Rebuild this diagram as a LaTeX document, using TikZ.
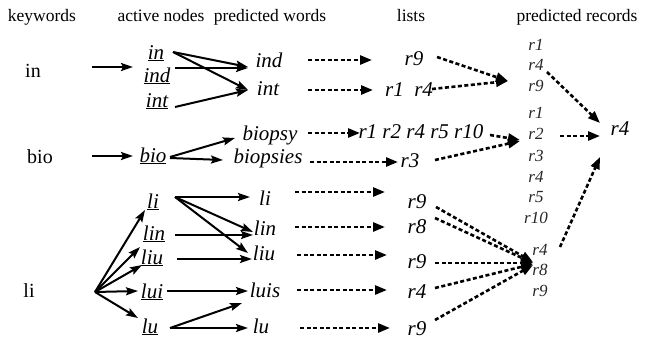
\documentclass[tikz,border=0pt]{standalone}
\usepackage{fontspec}
\setmainfont{Liberation Serif}
\newfontfamily\timesfont{Liberation Serif}
\usetikzlibrary{arrows.meta}

\begin{document}
\begin{tikzpicture}[x=1pt, y=-1pt,
        hdr/.style={anchor=base, inner sep=0pt, font=\timesfont\fontsize{17.5}{20}\selectfont},
        kw/.style={inner sep=0pt, text height=15pt, text depth=5pt, font=\timesfont\fontsize{20}{24}\selectfont},
        word/.style={inner sep=0pt, text height=15pt, text depth=5pt, font=\timesfont\fontsize{21}{24}\selectfont\itshape},
        rec/.style={inner sep=0pt, text height=12pt, text depth=4pt, text=black!85, font=\timesfont\fontsize{17}{20}\selectfont\itshape},
        solidarr/.style={-{Stealth[length=12pt,width=8pt,inset=2pt]}, line width=2pt},
        dotarr/.style={-{Triangle[length=12pt,width=9pt]}, line width=2.6pt, dash pattern=on 4pt off 2.5pt}]

        \useasboundingbox (0,0) rectangle (645,343);

        % column headers
        \node[hdr] (h1) at (42,21) {keywords};
        \node[hdr] (h2) at (161,21) {active nodes};
        \node[hdr] (h3) at (270,21) {predicted words};
        \node[hdr] (h4) at (411,21) {lists};
        \node[hdr] (h5) at (577,21) {predicted records};

        % keywords
        \node[kw] (kIn) at (33,72) {in};
        \node[kw] (kBio) at (40,158) {bio};
        \node[kw] (kLi) at (29,292) {li};
        \coordinate (hub) at (95,292);

        % active nodes
        \node[word] (aIn) at (156,54) {\underline{in}};
        \node[word] (aInd) at (157,77) {\underline{ind}};
        \node[word] (aInt) at (157,102) {\underline{int}};
        \node[word] (aBio) at (153,157) {\underline{bio}};
        \node[word] (aLi) at (153,203) {\underline{li}};
        \node[word] (aLin) at (154,235) {\underline{lin}};
        \node[word] (aLiu) at (152,259) {\underline{liu}};
        \node[word] (aLui) at (152,293) {\underline{lui}};
        \node[word] (aLu) at (150,328) {\underline{lu}};

        % predicted words
        \node[word] (pInd) at (269,62) {ind};
        \node[word] (pInt) at (268,90) {int};
        \node[word] (pBiopsy) at (270,135) {biopsy};
        \node[word] (pBiopsies) at (268,158) {biopsies};
        \node[word] (pLi) at (265,200) {li};
        \node[word] (pLin) at (265,230) {lin};
        \node[word] (pLiu) at (264,255) {liu};
        \node[word] (pLuis) at (265,292) {luis};
        \node[word] (pLu) at (261,328) {lu};

        % lists
        \node[word] (lR9a) at (414,60) {r9};
        \node[word] (lR1R4) at (409,91) {r1\ \ r4};
        \node[word] (lBio1) at (421,133) {r1 r2 r4 r5 r10};
        \node[word] (lR3) at (410,162) {r3};
        \node[word] (lR9b) at (417,203) {r9};
        \node[word] (lR8) at (417,228) {r8};
        \node[word] (lR9c) at (417,263) {r9};
        \node[word] (lR4) at (417,293) {r4};
        \node[word] (lR9d) at (417,330) {r9};

        % predicted records
        \foreach \n/\y in {1/46, 4/66, 9/87}
            \node[rec] (rA\n) at (536,\y) {r\n};
        \foreach \n/\y in {1/114, 2/135, 3/157, 4/178, 5/198, 10/219}
            \node[rec] (rB\n) at (536,\y) {r\n};
        \foreach \n/\y in {4/251, 8/271, 9/292}
            \node[rec] (rC\n) at (540,\y) {r\n};
        \node[word] (fR4) at (620,130) {r4};

        % keywords -> active nodes
        \draw[solidarr] ([shift={(59,-5)}]kIn.center) -- ([shift={(-24,-10)}]aInd.center);
        \draw[solidarr] ([shift={(52,-2)}]kBio.center) -- ([shift={(-20,-1)}]aBio.center);
        \draw[solidarr] (hub) -- ([shift={(-8,7)}]aLi.center);
        \draw[solidarr] (hub) -- ([shift={(-14,12)}]aLin.center);
        \draw[solidarr] (hub) -- ([shift={(-10,6)}]aLiu.center);
        \draw[solidarr] (hub) -- ([shift={(-14,-2)}]aLui.center);
        \draw[solidarr] (hub) -- ([shift={(-12,-10)}]aLu.center);

        % active nodes -> predicted words
        \draw[solidarr] ([shift={(17,-2)}]aIn.center) -- ([shift={(-21,5)}]pInd.center);
        \draw[solidarr] ([shift={(17,-2)}]aIn.center) -- ([shift={(-20,0)}]pInt.center);
        \draw[solidarr] ([shift={(18,-9)}]aInd.center) -- ([shift={(-21,6)}]pInd.center);
        \draw[solidarr] ([shift={(18,5)}]aInt.center) -- ([shift={(-20,0)}]pInt.center);
        \draw[solidarr] ([shift={(17,0)}]aBio.center) -- ([shift={(-35,3)}]pBiopsy.center);
        \draw[solidarr] ([shift={(17,1)}]aBio.center) -- ([shift={(-45,2)}]pBiopsies.center);
        \draw[solidarr] ([shift={(22,-6)}]aLi.center) -- ([shift={(-15,-3)}]pLi.center);
        \draw[solidarr] ([shift={(22,-6)}]aLi.center) -- ([shift={(-12,2)}]pLin.center);
        \draw[solidarr] ([shift={(22,-6)}]aLi.center) -- ([shift={(-16,-2)}]pLiu.center);
        \draw[solidarr] ([shift={(21,0)}]aLin.center) -- ([shift={(-12,5)}]pLin.center);
        \draw[solidarr] ([shift={(25,0)}]aLiu.center) -- ([shift={(-12,4)}]pLiu.center);
        \draw[solidarr] ([shift={(15,-2)}]aLui.center) -- ([shift={(-17,-1)}]pLuis.center);
        \draw[solidarr] ([shift={(20,0)}]aLu.center) -- ([shift={(-23,11)}]pLuis.center);
        \draw[solidarr] ([shift={(20,0)}]aLu.center) -- ([shift={(-13,0)}]pLu.center);

        % predicted words -> lists
        \draw[dotarr] ([shift={(39,-2)}]pInd.center) -- ([shift={(-42,0)}]lR9a.center);
        \draw[dotarr] ([shift={(40,0)}]pInt.center) -- ([shift={(-36,-1)}]lR1R4.center);
        \draw[dotarr] ([shift={(38,-2)}]pBiopsy.center) -- ([shift={(-61,0)}]lBio1.center);
        \draw[dotarr] ([shift={(42,4)}]pBiopsies.center) -- ([shift={(-12,0)}]lR3.center);
        \draw[dotarr] ([shift={(30,-8)}]pLi.center) -- ([shift={(-32,-11)}]lR9b.center);
        \draw[dotarr] ([shift={(30,-3)}]pLin.center) -- ([shift={(-32,-1)}]lR8.center);
        \draw[dotarr] ([shift={(33,0)}]pLiu.center) -- ([shift={(-30,-8)}]lR9c.center);
        \draw[dotarr] ([shift={(32,-2)}]pLuis.center) -- ([shift={(-30,-3)}]lR4.center);
        \draw[dotarr] ([shift={(39,0)}]pLu.center) -- ([shift={(-27,-2)}]lR9d.center);

        % lists -> predicted records
        \draw[dotarr] ([shift={(23,-3)}]lR9a.center) -- ([shift={(-28,-6)}]rA9.center);
        \draw[dotarr] ([shift={(23,-2)}]lR1R4.center) -- ([shift={(-28,-6)}]rA9.center);
        \draw[dotarr] ([shift={(69,2)}]lBio1.center) -- ([shift={(-16,5)}]rB2.center);
        \draw[dotarr] ([shift={(25,-2)}]lR3.center) -- ([shift={(-16,6)}]rB2.center);
        \draw[dotarr] ([shift={(19,4)}]lR9b.center) -- ([shift={(-7,-9)}]rC8.center);
        \draw[dotarr] ([shift={(18,-10)}]lR8.center) -- ([shift={(-7,-8)}]rC8.center);
        \draw[dotarr] ([shift={(18,0)}]lR9c.center) -- ([shift={(-7,-8)}]rC8.center);
        \draw[dotarr] ([shift={(18,-5)}]lR4.center) -- ([shift={(-7,-7)}]rC8.center);
        \draw[dotarr] ([shift={(18,-10)}]lR9d.center) -- ([shift={(-7,-6)}]rC8.center);

        % predicted records -> final record
        \draw[dotarr] ([shift={(11,6)}]rA4.center) -- ([shift={(-20,-7)}]fR4.center);
        \draw[dotarr] ([shift={(24,1)}]rB2.center) -- ([shift={(-20,6)}]fR4.center);
        \draw[dotarr] ([shift={(20,-4)}]rC4.center) -- ([shift={(-20,27)}]fR4.center);
\end{tikzpicture}
\end{document}
